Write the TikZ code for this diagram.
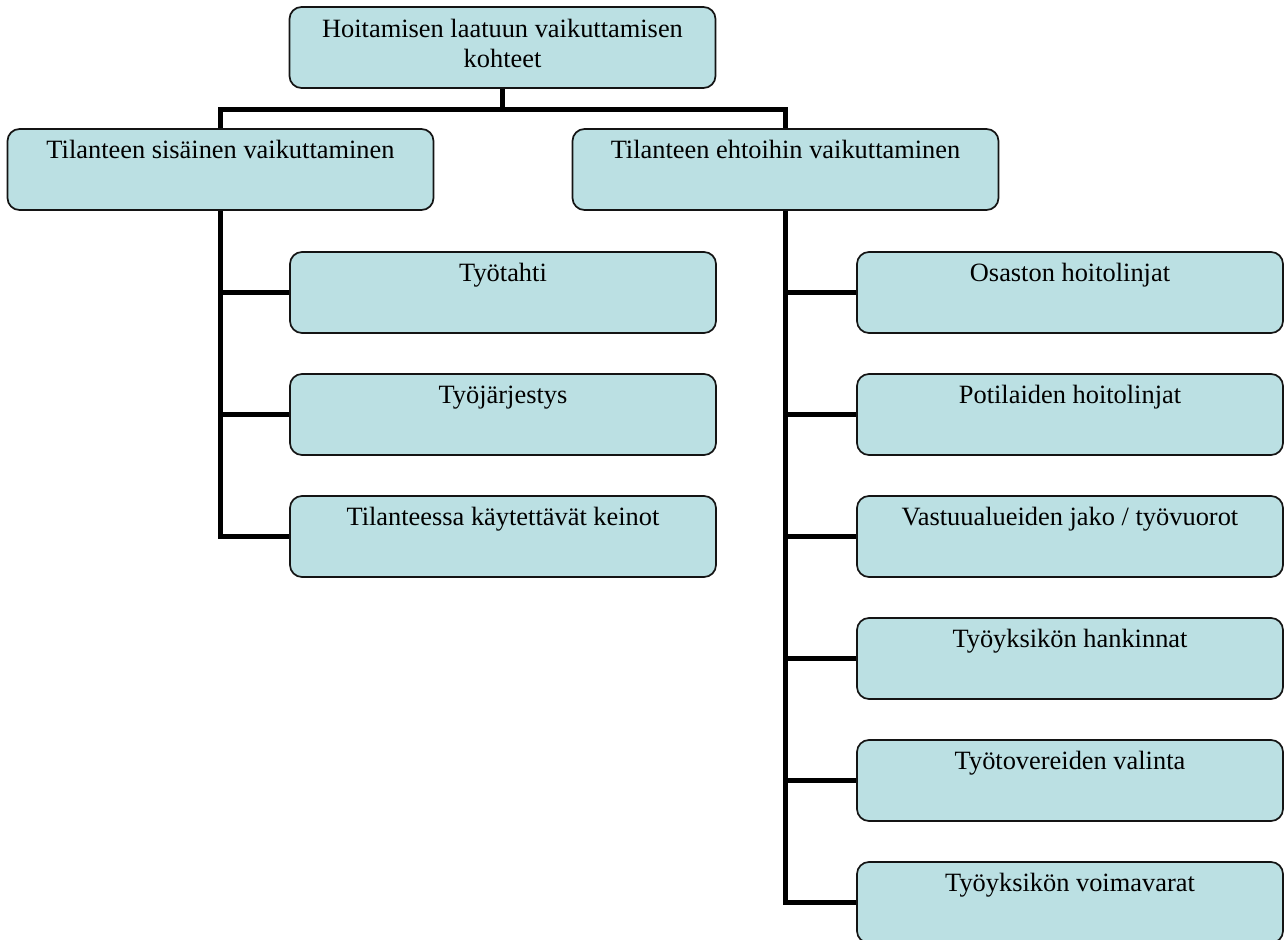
\documentclass[tikz,border=0pt]{standalone}
\usepackage{fontspec}
\setmainfont{Liberation Serif}
\usetikzlibrary{calc}
\definecolor{boxfill}{RGB}{187,224,227}
\definecolor{boxline}{RGB}{20,20,20}
\tikzset{
  box/.style={draw=boxline, fill=boxfill, line width=0.85pt, rounded corners=6pt,
    minimum width=213pt, minimum height=40.5pt, inner sep=0pt},
  lbl/.style={anchor=base, inner sep=0pt, align=center,
    font=\fontsize{13.2}{15}\selectfont},
  link/.style={line width=2.5pt, line join=miter, draw=black}
}
\begin{document}
\begin{tikzpicture}[x=0.5pt, y=-0.5pt]
\useasboundingbox (0,0) rectangle (1284,940);

% root (two lines; the base anchor sits on the last line)
\node[box] (top) at (502.5,47.5) {};
\node[lbl] (topt) at ($(top.north)+(0,61)$) {Hoitamisen laatuun vaikuttamisen\\kohteet};

% second level
\node[box] (L) at (220.5,169.5) {};
\node[lbl] (Lt) at ($(L.north)+(0,30)$) {Tilanteen sisäinen vaikuttaminen};
\node[box] (R) at (785.5,169.5) {};
\node[lbl] (Rt) at ($(R.north)+(0,30)$) {Tilanteen ehtoihin vaikuttaminen};

% left branch
\node[box] (l1) at (503,292.5) {};
\node[lbl] at ($(l1.north)+(0,30)$) {Työtahti};
\node[box] (l2) at (503,414.5) {};
\node[lbl] at ($(l2.north)+(0,30)$) {Työjärjestys};
\node[box] (l3) at (503,536.5) {};
\node[lbl] at ($(l3.north)+(0,30)$) {Tilanteessa käytettävät keinot};

% right branch
\node[box] (r1) at (1070,292.5) {};
\node[lbl] at ($(r1.north)+(0,30)$) {Osaston hoitolinjat};
\node[box] (r2) at (1070,414.5) {};
\node[lbl] at ($(r2.north)+(0,30)$) {Potilaiden hoitolinjat};
\node[box] (r3) at (1070,536.5) {};
\node[lbl] at ($(r3.north)+(0,30)$) {Vastuualueiden jako / työvuorot};
\node[box] (r4) at (1070,658.5) {};
\node[lbl] at ($(r4.north)+(0,30)$) {Työyksikön hankinnat};
\node[box] (r5) at (1070,780.5) {};
\node[lbl] at ($(r5.north)+(0,30)$) {Työtovereiden valinta};
\node[box] (r6) at (1070,902.5) {};
\node[lbl] at ($(r6.north)+(0,30)$) {Työyksikön voimavarat};

% connectors
\coordinate (bar) at (502.5,110);
\draw[link] (top.south) -- (top.south |- bar);
\draw[link] (L.north) -- (L.north |- bar) -- (R.north |- bar) -- (R.north);

\draw[link] (L.south) |- (l3.west);
\draw[link] (L.south |- l1.west) -- (l1.west);
\draw[link] (L.south |- l2.west) -- (l2.west);

\draw[link] (R.south) |- (r6.west);
\foreach \n in {r1,r2,r3,r4,r5}
  \draw[link] (R.south |- \n.west) -- (\n.west);
\end{tikzpicture}
\end{document}
